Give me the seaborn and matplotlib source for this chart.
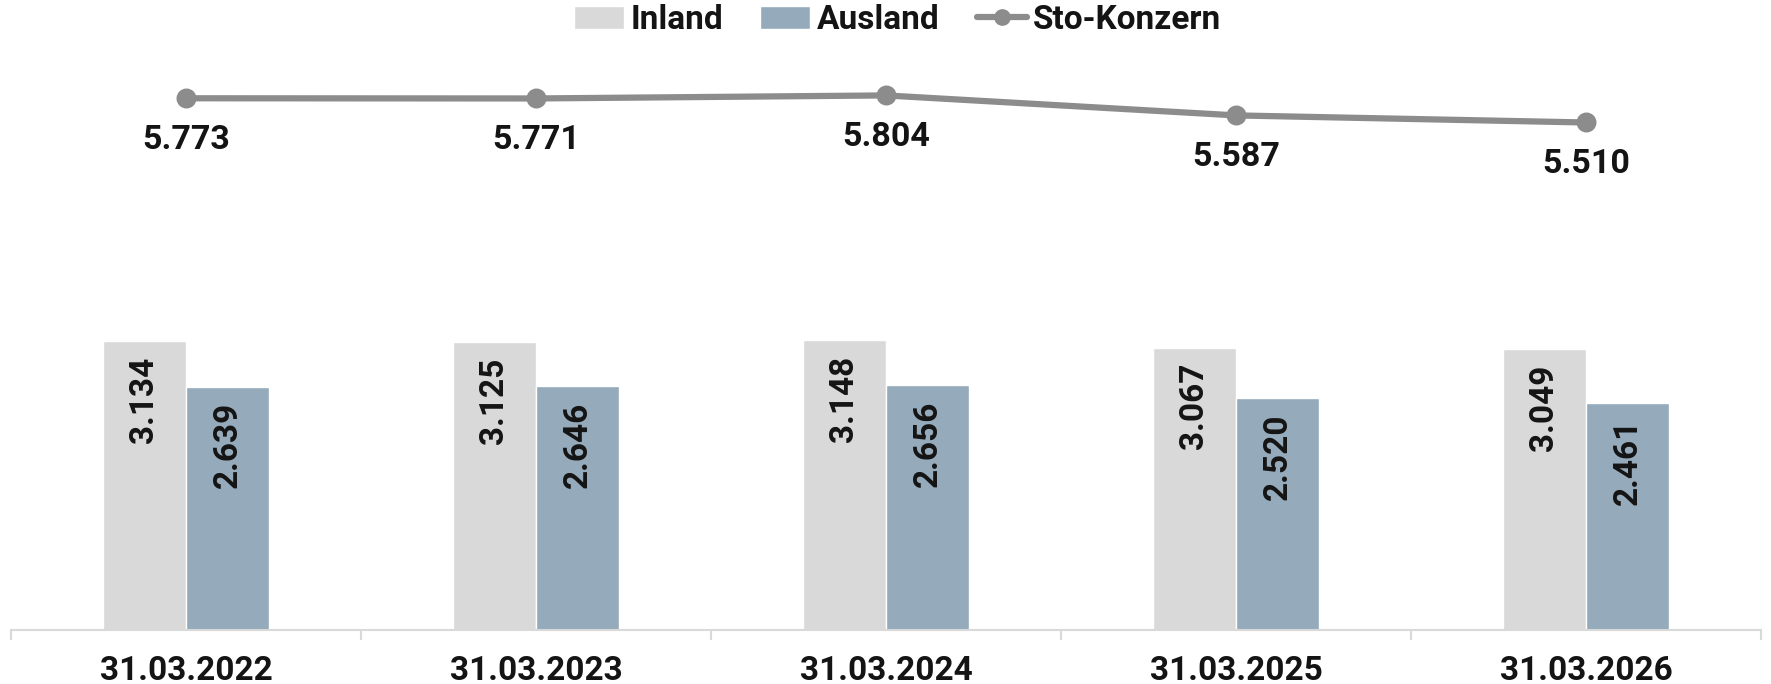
import matplotlib
matplotlib.use("Agg")
import matplotlib.pyplot as plt
import seaborn as sns
import pandas as pd
from matplotlib.patches import Patch
from matplotlib.lines import Line2D

# data
dates = ["31.03.2022", "31.03.2023", "31.03.2024", "31.03.2025", "31.03.2026"]
inland = [3134, 3125, 3148, 3067, 3049]
ausland = [2639, 2646, 2656, 2520, 2461]
konzern = [5773, 5771, 5804, 5587, 5510]

col_inland = "#d9d9d9"
col_ausland = "#95aaba"
col_line = "#8c8c8c"
col_text = "#141414"


def fmt(v):
    # german thousands separator
    return f"{v:,}".replace(",", ".")


sns.set_style("white")
plt.rcParams["font.family"] = ["Roboto", "DejaVu Sans"]
plt.rcParams["font.weight"] = "bold"
plt.rcParams["font.size"] = 24
plt.rcParams["text.color"] = col_text

fig = plt.figure(figsize=(17.71, 6.84), dpi=100)
ax = fig.add_axes([11 / 1771, 54 / 684, 1750 / 1771, 595 / 684])

df = pd.DataFrame({
    "Stichtag": dates * 2,
    "Region": ["Inland"] * len(dates) + ["Ausland"] * len(dates),
    "Mitarbeiter": inland + ausland,
})

sns.barplot(data=df, x="Stichtag", y="Mitarbeiter", hue="Region",
            palette=[col_inland, col_ausland], width=0.475, gap=0,
            saturation=1, legend=False, ax=ax)

sns.pointplot(x=dates, y=konzern, color=col_line, errorbar=None,
              markers="o", markersize=11, linewidth=4.5, ax=ax)

#labels inside the bars
for cont, vals in zip(ax.containers, [inland, ausland]):
    for bar, v in zip(cont, vals):
        ax.annotate(fmt(v), (bar.get_x() + bar.get_width() / 2, bar.get_height()),
                    xytext=(0, -11), textcoords="offset points",
                    rotation=90, ha="center", va="top",
                    fontsize=24, fontweight="bold", color=col_text)

#labels under the line points
for i, v in enumerate(konzern):
    ax.annotate(fmt(v), (i, v), xytext=(0, -30), textcoords="offset points",
                ha="center", va="center", fontsize=24.5, fontweight="bold",
                color=col_text)

ax.set_xlim(-0.5, len(dates) - 0.5)
ax.set_ylim(0, 6460)
ax.set_xlabel("")
ax.set_ylabel("")
ax.set_yticks([])
for s in ["top", "left", "right"]:
    ax.spines[s].set_visible(False)
ax.spines["bottom"].set_color(col_inland)
ax.spines["bottom"].set_linewidth(1.5)

ax.set_xticks(range(len(dates)))
ax.set_xticklabels(dates, fontsize=24, fontweight="bold", color=col_text)
ax.set_xticks([i - 0.5 for i in range(len(dates) + 1)], minor=True)
ax.tick_params(axis="x", which="major", length=0, pad=18)
ax.tick_params(axis="x", which="minor", length=7, width=1.5,
               color=col_inland, direction="out", bottom=True)

handles = [
    Patch(facecolor=col_inland, label="Inland"),
    Patch(facecolor=col_ausland, label="Ausland"),
    Line2D([0], [0], color=col_line, lw=4.5, marker="o", markersize=11,
           label="Sto-Konzern"),
]
fig.legend(handles=handles, loc="center", bbox_to_anchor=(0.507, 1 - 20 / 684),
           ncol=3, frameon=False, numpoints=1, handlelength=1.5,
           handletextpad=0.2, columnspacing=1.1,
           prop={"size": 24, "weight": "bold"})

fig.savefig("out.png", dpi=100)
